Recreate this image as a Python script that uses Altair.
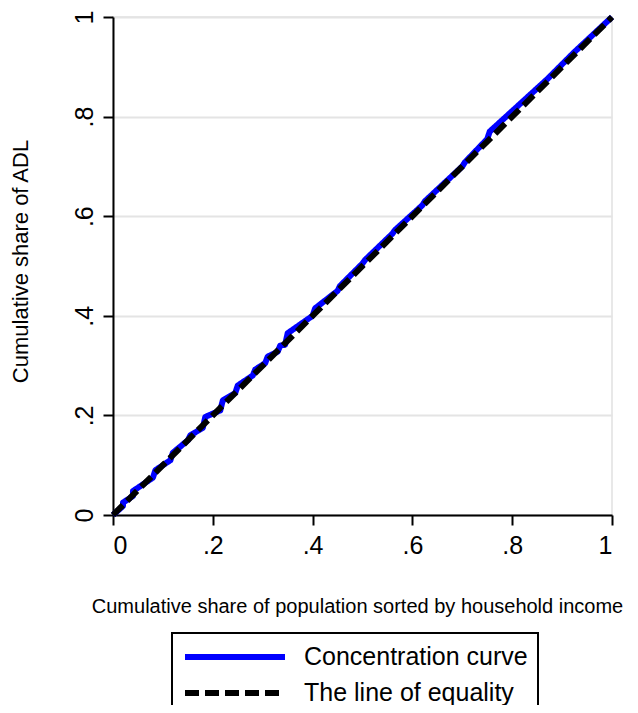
import altair as alt
import pandas as pd

# Concentration curve (cumulative share of ADL vs cumulative population share)
conc_x = [0, 0.02, 0.02, 0.04, 0.04, 0.08, 0.085, 0.115, 0.12, 0.15, 0.155, 0.18, 0.185,
          0.215, 0.22, 0.245, 0.25, 0.28, 0.285, 0.305, 0.31, 0.33, 0.335, 0.345, 0.35,
          0.40, 0.405, 0.45, 0.455, 0.50, 0.505, 0.56, 0.565, 0.62, 0.625, 0.70, 0.705,
          0.75, 0.755, 0.87, 0.875, 0.92, 0.925, 1.0]
conc_y = [0, 0.018, 0.025, 0.038, 0.048, 0.075, 0.09, 0.11, 0.125, 0.15, 0.16, 0.175, 0.197,
          0.21, 0.23, 0.245, 0.26, 0.28, 0.292, 0.305, 0.318, 0.328, 0.34, 0.342, 0.365,
          0.40, 0.415, 0.45, 0.46, 0.505, 0.512, 0.565, 0.572, 0.622, 0.63, 0.70, 0.708,
          0.755, 0.77, 0.875, 0.88, 0.925, 0.93, 1.0]

# Line of equality
eq_x = [0, 1]
eq_y = [0, 1]

series_names = ["Concentration curve", "The line of equality"]
series_colors = ["#0000ff", "#000000"]
tick_vals = [0, 0.2, 0.4, 0.6, 0.8, 1]

rows = []
for i, (x, y) in enumerate(zip(conc_x, conc_y)):
    rows.append({"series": series_names[0], "x": x, "y": y, "i": i})
for i, (x, y) in enumerate(zip(eq_x, eq_y)):
    rows.append({"series": series_names[1], "x": x, "y": y, "i": i})
df = pd.DataFrame(rows)

label_expr = ("datum.value == 0 ? '0' : datum.value == 1 ? '1' : "
              "replace(format(datum.value, '.1f'), '0.', '.')")

leg = alt.Legend(orient="none", legendX=59, legendY=616, title=None,
                 symbolType="stroke", symbolSize=10000,
                 symbolStrokeWidth=6, labelFontSize=25, labelLimit=500,
                 labelColor="black", labelOffset=16,
                 padding=10, strokeColor="black",
                 clipHeight=28, rowPadding=8)

chart = alt.Chart(df).mark_line(strokeWidth=6, strokeCap="butt", strokeJoin="round").encode(
    x=alt.X("x:Q", scale=alt.Scale(domain=[0, 1], nice=False, zero=False),
            axis=alt.Axis(values=tick_vals, labelExpr=label_expr, grid=False,
                          title="Cumulative share of population sorted by household income",
                          titleY=97, titleX=244, titleBaseline="alphabetic",
                          titleFontSize=20, labelPadding=8)),
    y=alt.Y("y:Q", scale=alt.Scale(domain=[0, 1], nice=False, zero=False),
            axis=alt.Axis(values=tick_vals, labelExpr=label_expr, grid=True,
                          title="Cumulative share of ADL", titleFontSize=22,
                          labelAngle=270, labelAlign="center", labelBaseline="bottom",
                          labelPadding=6, titleX=-81, titleY=244, titleBaseline="bottom")),
    color=alt.Color("series:N",
                    scale=alt.Scale(domain=series_names, range=series_colors),
                    legend=leg),
    strokeDash=alt.StrokeDash("series:N",
                              scale=alt.Scale(domain=series_names, range=[[1, 0], [14, 6]]),
                              legend=leg),
    order="i:Q",
).properties(
    width=499, height=498,
    autosize=alt.AutoSizeParams(type="none"),
    padding={"left": 105, "top": 9, "right": 18, "bottom": 190},
).configure(
    font="Liberation Sans",
).configure_axis(
    domainColor="black", domainWidth=2,
    tickColor="black", tickWidth=2, tickSize=10,
    labelFontSize=25, labelColor="black", labelFont="Liberation Sans",
    titleFontSize=20, titleColor="black", titleFontWeight="normal", titleFont="Liberation Sans",
    gridColor="#e4e4e4", gridWidth=2,
).configure_view(
    stroke="#e8e8e8", strokeWidth=2,
).configure_legend(
    labelFont="Liberation Sans", strokeWidth=2,
)

chart.save("out.html", embed_options={"renderer": "svg", "actions": False})
